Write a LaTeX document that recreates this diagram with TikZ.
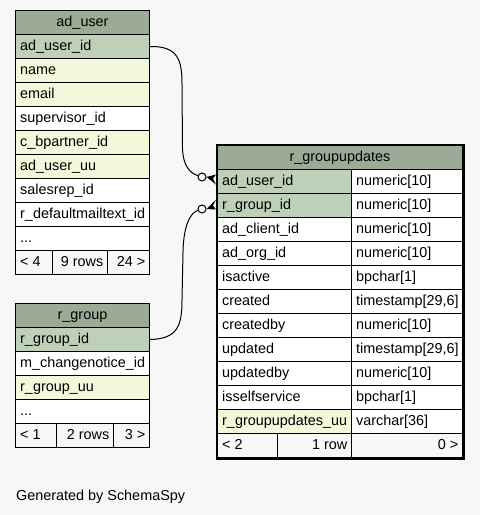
\documentclass[tikz,border=0pt]{standalone}
\usepackage{fontspec}
\setmainfont{Liberation Sans}
\usetikzlibrary{calc}
\definecolor{bg}{HTML}{F7F7F7}
\definecolor{hdr}{HTML}{9BAB96}
\definecolor{pk}{HTML}{BED1B8}
\definecolor{idx}{HTML}{F4F7DA}
\tikzset{
  cellbox/.style={draw=black, line width=1pt, inner sep=0pt, minimum height=24pt, anchor=north west, rectangle},
  celltxt/.style={inner sep=0pt, font=\fontsize{14.4}{17}\selectfont},
  conn/.style={draw=black, line width=1pt},
  optdot/.style={circle, draw=black, fill=bg, line width=1pt, minimum size=8pt, inner sep=0pt},
}
\newcommand\cellL[6]{\node[cellbox,fill=#5,minimum width=#4pt] (#1) at (#2,#3) {};
  \node[celltxt,anchor=base west] (#1t) at ($(#1.north west)+(5,16.6)$) {#6};}
\newcommand\cellC[6]{\node[cellbox,fill=#5,minimum width=#4pt] (#1) at (#2,#3) {};
  \node[celltxt,anchor=base] (#1t) at ($(#1.north)+(0,16.6)$) {#6};}
\newcommand\cellR[6]{\node[cellbox,fill=#5,minimum width=#4pt] (#1) at (#2,#3) {};
  \node[celltxt,anchor=base east] (#1t) at ($(#1.north east)+(-4.5,16.6)$) {#6};}
\begin{document}
\begin{tikzpicture}[x=1pt,y=-1pt]
\useasboundingbox (0,0) rectangle (480,515);
\fill[bg] (0,0) rectangle (480,515);

% ad_user
\cellC{au}{15}{10}{134}{hdr}{ad\_user}
\cellL{au1}{15}{34}{134}{pk}{ad\_user\_id}
\cellL{au2}{15}{58}{134}{idx}{name}
\cellL{au3}{15}{82}{134}{idx}{email}
\cellL{au4}{15}{106}{134}{white}{supervisor\_id}
\cellL{au5}{15}{130}{134}{idx}{c\_bpartner\_id}
\cellL{au6}{15}{154}{134}{idx}{ad\_user\_uu}
\cellL{au7}{15}{178}{134}{white}{salesrep\_id}
\cellL{au8}{15}{202}{134}{white}{r\_defaultmailtext\_id}
\cellL{au9}{15}{226}{134}{white}{...}
\cellL{auf1}{15}{250}{37}{bg}{< 4}
\cellR{auf2}{52}{250}{55}{bg}{9 rows}
\cellR{auf3}{107}{250}{42}{bg}{24 >}

% r_group
\cellC{ag}{15}{303}{134}{hdr}{r\_group}
\cellL{ag1}{15}{327}{134}{pk}{r\_group\_id}
\cellL{ag2}{15}{351}{134}{white}{m\_changenotice\_id}
\cellL{ag3}{15}{375}{134}{idx}{r\_group\_uu}
\cellL{ag4}{15}{399}{134}{white}{...}
\cellL{agf1}{15}{423}{41}{bg}{< 1}
\cellR{agf2}{56}{423}{57}{bg}{2 rows}
\cellR{agf3}{113}{423}{36}{bg}{3 >}

% r_groupupdates
\cellC{gu}{217}{145}{245}{hdr}{r\_groupupdates}
\cellL{gu1}{217}{169}{134}{pk}{ad\_user\_id}
\cellL{gu1b}{351}{169}{111}{white}{numeric[10]}
\cellL{gu2}{217}{193}{134}{pk}{r\_group\_id}
\cellL{gu2b}{351}{193}{111}{white}{numeric[10]}
\cellL{gu3}{217}{217}{134}{white}{ad\_client\_id}
\cellL{gu3b}{351}{217}{111}{white}{numeric[10]}
\cellL{gu4}{217}{241}{134}{white}{ad\_org\_id}
\cellL{gu4b}{351}{241}{111}{white}{numeric[10]}
\cellL{gu5}{217}{265}{134}{white}{isactive}
\cellL{gu5b}{351}{265}{111}{white}{bpchar[1]}
\cellL{gu6}{217}{289}{134}{white}{created}
\cellL{gu6b}{351}{289}{111}{white}{timestamp[29,6]}
\cellL{gu7}{217}{313}{134}{white}{createdby}
\cellL{gu7b}{351}{313}{111}{white}{numeric[10]}
\cellL{gu8}{217}{337}{134}{white}{updated}
\cellL{gu8b}{351}{337}{111}{white}{timestamp[29,6]}
\cellL{gu9}{217}{361}{134}{white}{updatedby}
\cellL{gu9b}{351}{361}{111}{white}{numeric[10]}
\cellL{gu10}{217}{385}{134}{white}{isselfservice}
\cellL{gu10b}{351}{385}{111}{white}{bpchar[1]}
\cellL{gu11}{217}{409}{134}{idx}{r\_groupupdates\_uu}
\cellL{gu11b}{351}{409}{111}{white}{varchar[36]}
\cellL{guf1}{217}{433}{60}{bg}{< 2}
\cellR{guf2}{277}{433}{74}{bg}{1 row}
\cellR{guf3}{351}{433}{111}{bg}{0 >}
\node[draw=black, line width=2pt, inner sep=0pt, minimum width=247pt, minimum height=314pt, anchor=north west] (gubox) at (216,144) {};

% connectors
\node[optdot] (c1) at (202,177) {};
\node[optdot] (c2) at (202,209) {};
\draw[conn] (au1.east) .. controls (178,46) and (182,60) .. (182,84) -- (182.5,148) .. controls (183,166) and (190,173) .. (c1);
\draw[conn] (ag1.east) .. controls (178,339) and (182,325) .. (182,300) -- (183,252) .. controls (183.5,226) and (190,213) .. (c2);
\fill[black] (c1.east) -- ($(gu1.west)+(-1,-7)$) -- ($(gu1.west)+(-4,-3)$) -- ($(gu1.west)+(-1,3)$) -- cycle;
\fill[black] (c2.east) -- ($(gu2.west)+(-1,-6)$) -- ($(gu2.west)+(-4,0)$) -- ($(gu2.west)+(-1,4)$) -- cycle;

\node[celltxt, anchor=base west] (gen) at (16,500) {Generated by SchemaSpy};
\end{tikzpicture}
\end{document}
